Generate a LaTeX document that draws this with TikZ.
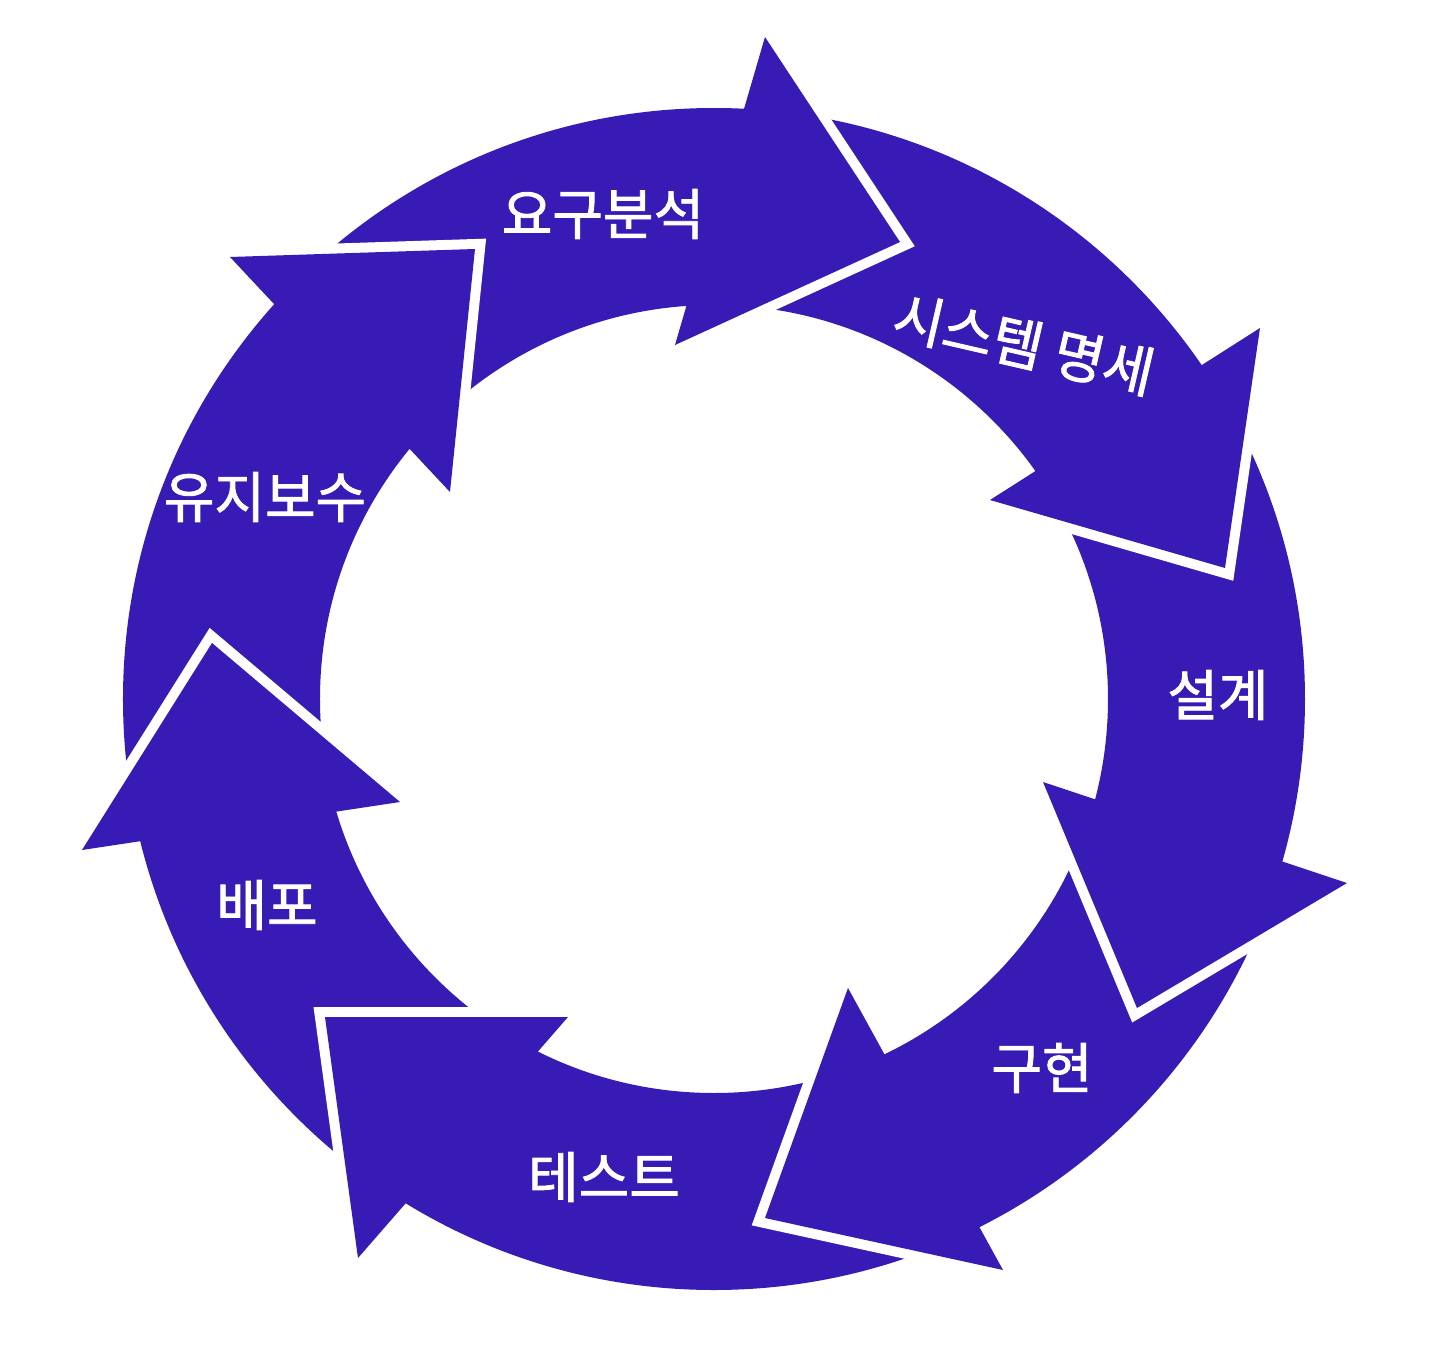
\documentclass[tikz,border=0pt]{standalone}
\usepackage{fontspec}
\newfontfamily\kr[FakeBold=1.6]{Noto Sans CJK KR}
\definecolor{cyc}{RGB}{55,27,180}
\begin{document}
\begin{tikzpicture}[x=0.5pt,y=0.5pt,
  headline/.style={draw=white,line width=10pt,miter limit=10,line join=miter},
  lbl/.style={text=white,font=\kr\fontsize{27.5pt}{32pt}\selectfont,inner sep=0pt}]
\useasboundingbox (-714,-647) rectangle (722,699);
% ring band
\fill[cyc,even odd rule] (0,0) circle[radius=591] (0,0) circle[radius=394];
% arrow heads: back outer corner / tip / back inner corner
\foreach \bx/\by/\tx/\ty/\ix/\iy in {
   51/662/186/457/-39/354,
   546/371/511/131/276/199,
   633/-184/423/-309/329/-83,
   289/-571/51/-519/134/-289,
   -356/-559/-389/-318/-146/-318,
   -632/-151/-502/56/-314/-103,
   -484/442/-239/450/-264/207}{
  \draw[headline] (\bx,\by) -- (\tx,\ty) -- (\ix,\iy);
  \fill[cyc] (\bx,\by) -- (\tx,\ty) -- (\ix,\iy) -- cycle;
}
\node[lbl] (l1) at (-111,485) {요구분석};
\node[lbl,rotate=-13] (l2) at (310,355) {시스템 명세};
\node[lbl] (l3) at (504,4) {설계};
\node[lbl] (l4) at (328,-369) {구현};
\node[lbl] (l5) at (-110,-478) {테스트};
\node[lbl] (l6) at (-447,-206) {배포};
\node[lbl] (l7) at (-449,202) {유지보수};
\end{tikzpicture}
\end{document}
